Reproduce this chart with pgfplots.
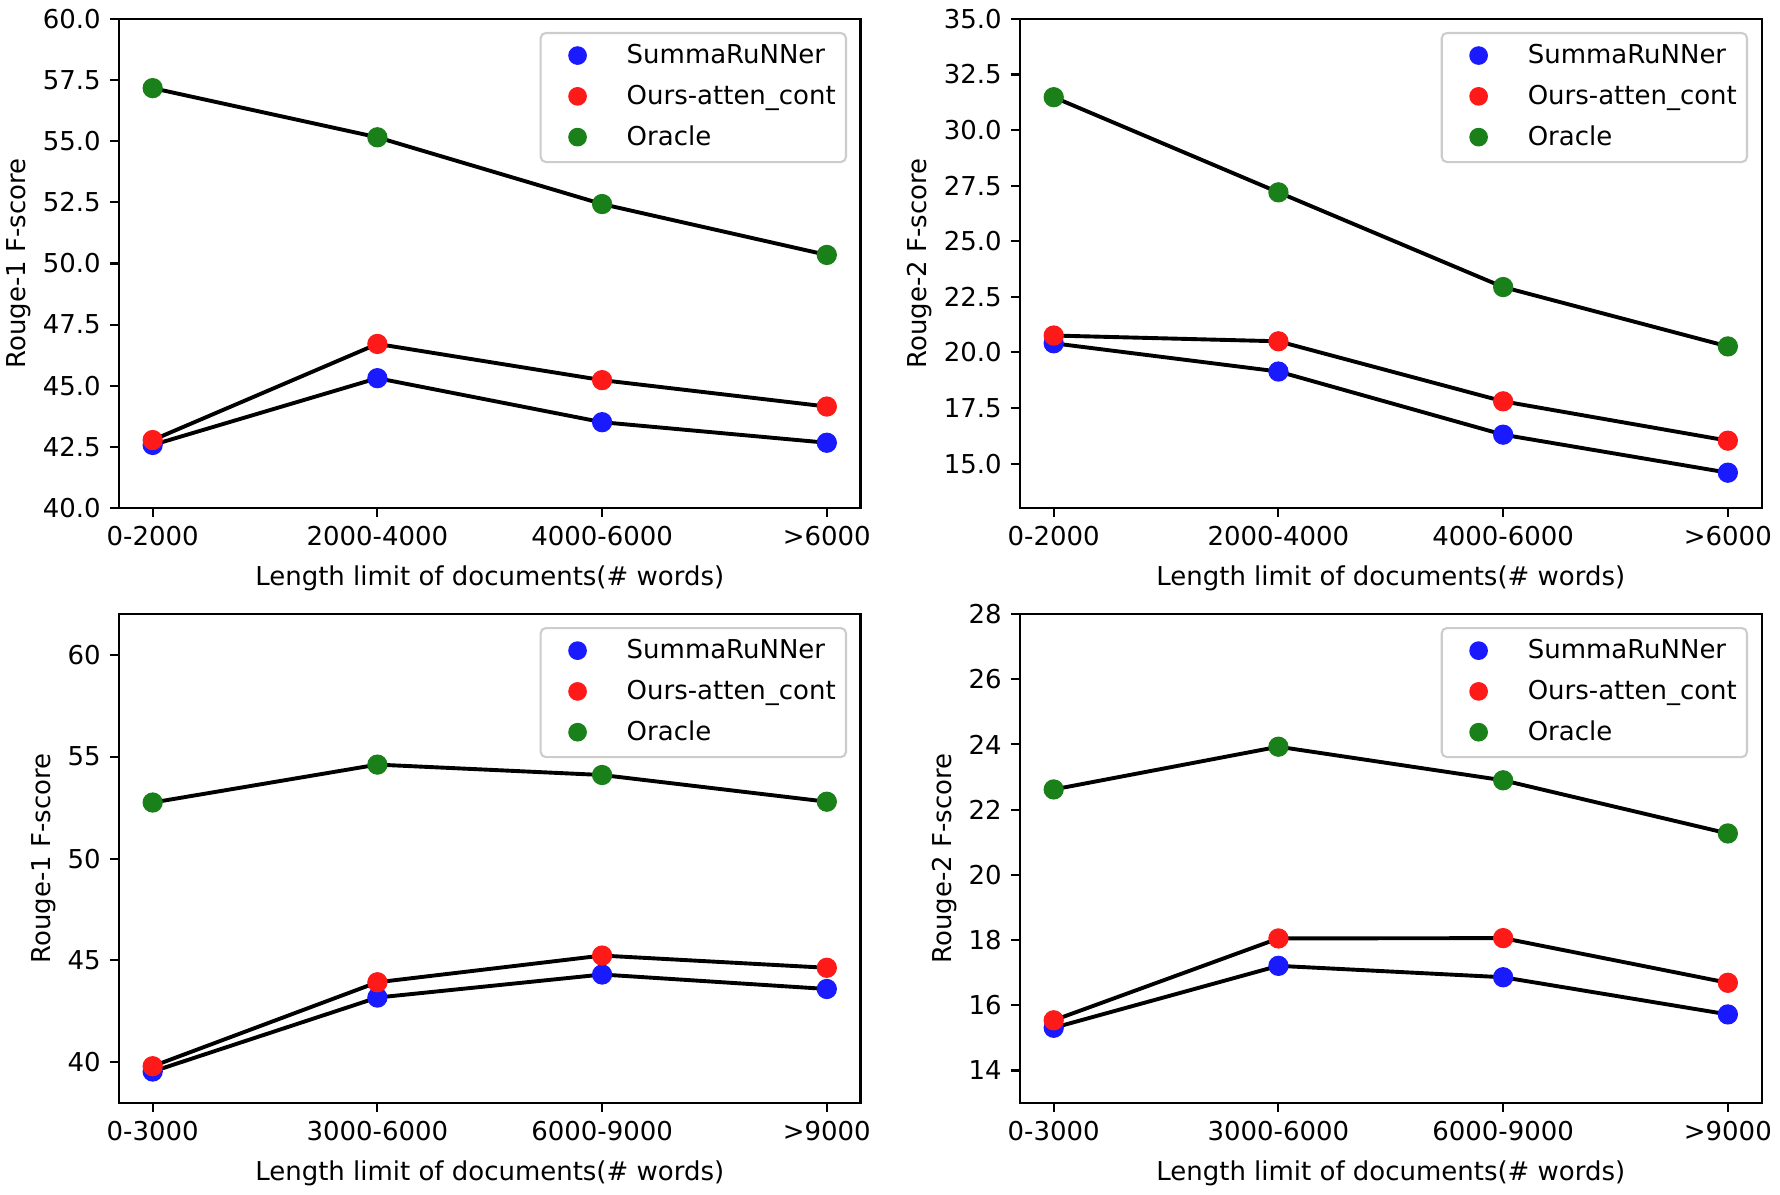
\documentclass[border=0pt]{standalone}
\usepackage{fontspec}
\setmainfont{DejaVu Sans}
\usepackage{pgfplots}
\pgfplotsset{compat=1.18}
\definecolor{mblue}{RGB}{26,26,255}
\definecolor{mred}{RGB}{255,26,26}
\definecolor{mgreen}{RGB}{26,128,26}
\pgfplotsset{
  leg/.style={legend image code/.code={\path[draw=none,fill=none] (-13.6pt,-8.3pt) rectangle (15.6pt,7.4pt); \fill[#1,draw=none] (0pt,0pt) circle (3.6pt);}},
  pan/.style={
    scale only axis, width=285.5pt, height=188.3pt, anchor=south west,
    xmin=-0.15, xmax=3.15, xtick={0,1,2,3},
    tick align=outside, xtick pos=bottom, ytick pos=left,
    major tick length=3.5pt,
    tick style={black, line width=0.8pt},
    axis line style={black, line width=0.8pt},
    font=\fontsize{10}{12}\selectfont,
    /pgf/number format/assume math mode=true,
    xlabel={Length limit of documents(\# words)},
    xlabel style={yshift=-0.8pt},
    ylabel style={yshift=-2.2pt},
    legend cell align=left,
    legend style={at={(1,1)}, anchor=north east, xshift=-5.2pt, yshift=-5pt,
      draw=black!20, line width=0.8pt, rounded corners=2pt, fill=white,
      inner xsep=0.6pt, inner ysep=1.3pt, row sep=0pt, column sep=0pt,
      nodes={inner ysep=0pt, inner xsep=3.33pt},
      font=\fontsize{10}{12}\selectfont},
  },
  sc/.style={only marks, mark=*, mark size=3.7pt, color=#1, mark options={draw=none, fill=#1}, leg=#1},
  ln/.style={black, line width=1.5pt, no marks, forget plot},
}
\begin{document}
\begin{tikzpicture}
\useasboundingbox (0pt,0pt) rectangle (685.3pt,459.7pt);
% top-left
\begin{axis}[pan, at={(45.8pt,264.1pt)},
  xticklabels={0-2000,2000-4000,4000-6000,>6000},
  ymin=40, ymax=60, ytick={40,42.5,...,60},
  yticklabel style={/pgf/number format/.cd, fixed, fixed zerofill, precision=1},
  ylabel={Rouge-1 F-score}]
\addplot[sc=mblue] coordinates {(0,42.58) (1,45.31) (2,43.51) (3,42.67)};
\addlegendentry{SummaRuNNer}
\addplot[sc=mred] coordinates {(0,42.78) (1,46.71) (2,45.23) (3,44.15)};
\addlegendentry{Ours-atten\_cont}
\addplot[sc=mgreen] coordinates {(0,57.17) (1,55.16) (2,52.43) (3,50.35)};
\addlegendentry{Oracle}
\addplot[ln] coordinates {(0,42.58) (1,45.31) (2,43.51) (3,42.67)};
\addplot[ln] coordinates {(0,42.78) (1,46.71) (2,45.23) (3,44.15)};
\addplot[ln] coordinates {(0,57.17) (1,55.16) (2,52.43) (3,50.35)};
\end{axis}
% top-right
\begin{axis}[pan, at={(392.7pt,264.1pt)},
  xticklabels={0-2000,2000-4000,4000-6000,>6000},
  ymin=13, ymax=35, ytick={15,17.5,...,35},
  yticklabel style={/pgf/number format/.cd, fixed, fixed zerofill, precision=1},
  ylabel={Rouge-2 F-score}]
\addplot[sc=mblue] coordinates {(0,20.41) (1,19.14) (2,16.30) (3,14.59)};
\addlegendentry{SummaRuNNer}
\addplot[sc=mred] coordinates {(0,20.76) (1,20.50) (2,17.80) (3,16.03)};
\addlegendentry{Ours-atten\_cont}
\addplot[sc=mgreen] coordinates {(0,31.48) (1,27.20) (2,22.94) (3,20.27)};
\addlegendentry{Oracle}
\addplot[ln] coordinates {(0,20.41) (1,19.14) (2,16.30) (3,14.59)};
\addplot[ln] coordinates {(0,20.76) (1,20.50) (2,17.80) (3,16.03)};
\addplot[ln] coordinates {(0,31.48) (1,27.20) (2,22.94) (3,20.27)};
\end{axis}
% bottom-left
\begin{axis}[pan, at={(45.8pt,35.0pt)},
  xticklabels={0-3000,3000-6000,6000-9000,>9000},
  ymin=38, ymax=62, ytick={40,45,...,60},
  ylabel={Rouge-1 F-score}]
\addplot[sc=mblue] coordinates {(0,39.55) (1,43.18) (2,44.31) (3,43.60)};
\addlegendentry{SummaRuNNer}
\addplot[sc=mred] coordinates {(0,39.81) (1,43.93) (2,45.24) (3,44.64)};
\addlegendentry{Ours-atten\_cont}
\addplot[sc=mgreen] coordinates {(0,52.75) (1,54.61) (2,54.10) (3,52.79)};
\addlegendentry{Oracle}
\addplot[ln] coordinates {(0,39.55) (1,43.18) (2,44.31) (3,43.60)};
\addplot[ln] coordinates {(0,39.81) (1,43.93) (2,45.24) (3,44.64)};
\addplot[ln] coordinates {(0,52.75) (1,54.61) (2,54.10) (3,52.79)};
\end{axis}
% bottom-right
\begin{axis}[pan, at={(392.7pt,35.0pt)},
  xticklabels={0-3000,3000-6000,6000-9000,>9000},
  ymin=13, ymax=28, ytick={14,16,...,28},
  ylabel={Rouge-2 F-score}]
\addplot[sc=mblue] coordinates {(0,15.31) (1,17.21) (2,16.86) (3,15.72)};
\addlegendentry{SummaRuNNer}
\addplot[sc=mred] coordinates {(0,15.54) (1,18.05) (2,18.06) (3,16.69)};
\addlegendentry{Ours-atten\_cont}
\addplot[sc=mgreen] coordinates {(0,22.62) (1,23.93) (2,22.90) (3,21.27)};
\addlegendentry{Oracle}
\addplot[ln] coordinates {(0,15.31) (1,17.21) (2,16.86) (3,15.72)};
\addplot[ln] coordinates {(0,15.54) (1,18.05) (2,18.06) (3,16.69)};
\addplot[ln] coordinates {(0,22.62) (1,23.93) (2,22.90) (3,21.27)};
\end{axis}
\end{tikzpicture}
\end{document}
